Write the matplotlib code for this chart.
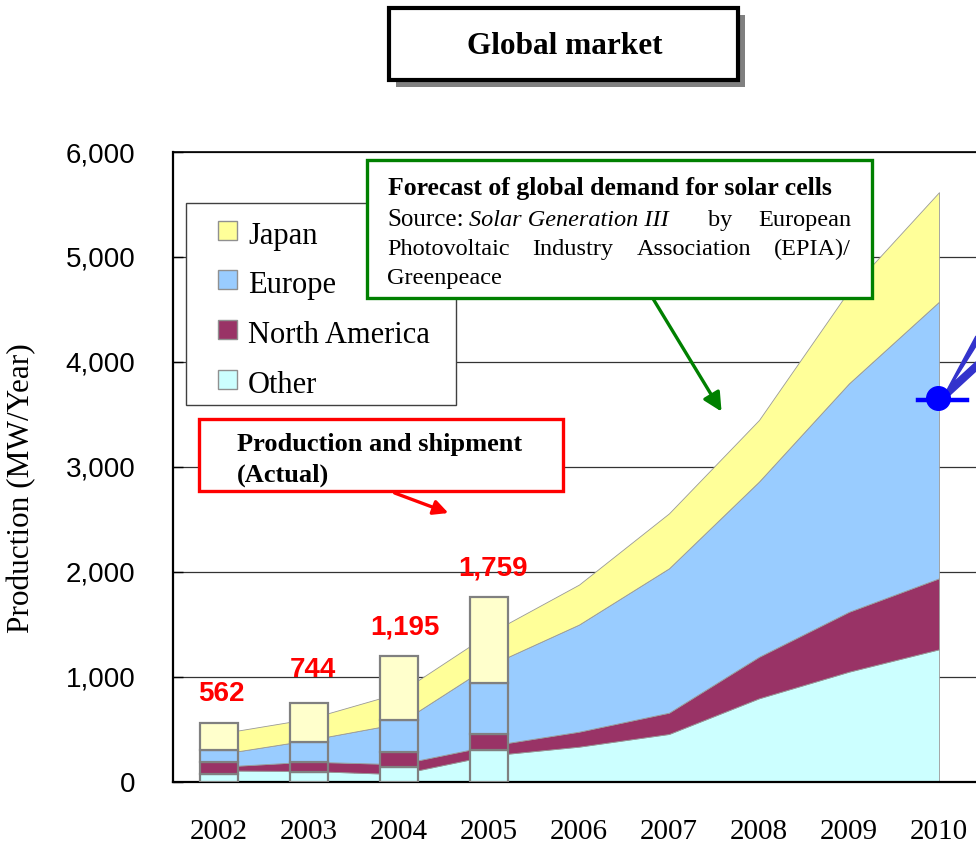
import numpy as np
import matplotlib
matplotlib.use("Agg")
import matplotlib.pyplot as plt
from matplotlib.patches import Rectangle, FancyArrowPatch, Polygon
from matplotlib.lines import Line2D
from matplotlib.ticker import FuncFormatter, FixedLocator

W, H = 976, 849
SERIF = "Liberation Serif"
SANS = "Liberation Sans"

years = ["2002", "2003", "2004", "2005", "2006", "2007", "2008", "2009", "2010"]
# forecast of global demand (EPIA / Greenpeace), MW/Year
other_fc = [105, 100, 70, 247, 332, 453, 793, 1047, 1260]
na_fc = [36, 89, 95, 93, 143, 203, 396, 571, 677]
europe_fc = [119, 206, 388, 765, 1021, 1376, 1670, 2177, 2636]
japan_fc = [196, 203, 292, 305, 381, 524, 587, 885, 1044]
# production and shipment (actual), MW/Year
other_act = [70, 88, 141, 300]
na_act = [115, 100, 143, 153]
europe_act = [115, 190, 302, 483]
japan_act = [262, 366, 609, 823]
totals = [562, 744, 1195, 1759]

c_japan, c_japan_bar = "#FFFF99", "#FFFFCC"
c_europe = "#99CCFF"
c_na = "#993366"
c_other = "#CCFFFF"


def fx(x):
    return x / W


def fy(y):
    return 1 - y / H


def box(x0, y0, x1, y1, **kw):
    return Rectangle((fx(x0), fy(y1)), (x1 - x0) / W, (y1 - y0) / H,
                     transform=fig.transFigure, **kw)


def ftext(x, y, s, **kw):
    kw.setdefault("family", SERIF)
    kw.setdefault("va", "center_baseline")
    kw.setdefault("zorder", 8)
    fig.text(fx(x), fy(y), s, **kw)


fig = plt.figure(figsize=(W / 100, H / 100), dpi=100)
ax = fig.add_axes([fx(173), fy(781.5), (W - 173) / W, (781.5 - 152) / H])

x = np.arange(len(years))
ax.stackplot(x, other_fc, na_fc, europe_fc, japan_fc,
             colors=[c_other, c_na, c_europe, c_japan],
             edgecolor="#999999", linewidth=0.6, zorder=2)

xb = x[:len(totals)]
bottom = np.zeros(len(totals))
for vals, col in [(other_act, c_other), (na_act, c_na),
                  (europe_act, c_europe), (japan_act, c_japan_bar)]:
    ax.bar(xb, vals, width=0.42, bottom=bottom, color=col,
           edgecolor="#808080", linewidth=1.6, zorder=3)
    bottom += np.array(vals)

label_offsets = [(2, 11), (3, 15), (4, 11), (3, 11)]
for xi, t, off in zip(xb, totals, label_offsets):
    ax.annotate(f"{t:,}", (xi, t), xytext=off, textcoords="offset points",
                ha="center", va="bottom", color="#FF0000", fontsize=20,
                fontweight="bold", family=SANS, zorder=4)

ax.set_xlim(-0.511, (W - 219) / 90)
ax.set_ylim(0, 6000)
ax.set_yticks(np.arange(0, 6001, 1000))
ax.yaxis.set_major_formatter(FuncFormatter(lambda v, p: f"{int(v):,}"))
ax.set_xticks(x)
ax.set_xticklabels(years, family=SERIF, fontsize=21)
ax.xaxis.set_minor_locator(FixedLocator(x[:-1] + 0.5))
ax.tick_params(axis="x", which="major", length=0, pad=27)
ax.tick_params(axis="x", which="minor", direction="in", length=7, width=1)
ax.tick_params(axis="y", direction="in", length=7, width=1, pad=27, labelsize=20)
for lab in ax.get_yticklabels():
    lab.set_family(SANS)
ax.grid(axis="y", color="#333333", linewidth=0.9)
ax.set_axisbelow(True)
ax.spines["right"].set_visible(False)
ax.spines["left"].set_linewidth(1.6)
ax.spines["bottom"].set_linewidth(1.6)
ax.spines["top"].set_linewidth(1.2)

fig.text(fx(22), fy(488), "Production (MW/Year)", rotation=90, family=SERIF,
         fontsize=22.5, ha="center", va="center")

# title box with shadow
fig.add_artist(box(396, 15, 745, 87, facecolor="#808080", edgecolor="none", zorder=5))
fig.add_artist(box(389, 8, 738, 80, facecolor="white", edgecolor="black",
                   linewidth=3, zorder=6))
ftext(565, 46, "Global market", fontsize=22.5, fontweight="bold", ha="center",
      va="center")

# legend
fig.add_artist(box(186, 203, 456, 405, facecolor="white", edgecolor="#404040",
                   linewidth=1, zorder=5))
for yy, col, name in [(231, c_japan, "Japan"), (280, c_europe, "Europe"),
                      (330, c_na, "North America"), (380, c_other, "Other")]:
    fig.add_artist(box(218, yy - 10, 237, yy + 9, facecolor=col,
                       edgecolor="#909090", linewidth=1, zorder=6))
    ftext(248, yy + 2, name, fontsize=22, zorder=6)

# forecast annotation
fig.add_artist(box(367, 160, 872, 298, facecolor="white", edgecolor="#008000",
                   linewidth=2.4, zorder=7))
ftext(388, 186, "Forecast of global demand for solar cells", fontsize=18.5,
      fontweight="bold")
ftext(387, 218, "Source:", fontsize=18)
ftext(469, 218, "Solar Generation III", fontsize=17.5, style="italic")
ftext(708, 218, "by", fontsize=17.5)
ftext(851, 218, "European", fontsize=17.5, ha="right")
ftext(387, 247, "Photovoltaic", fontsize=17.5)
ftext(532, 247, "Industry", fontsize=17.5)
ftext(637, 247, "Association", fontsize=17.5)
ftext(851, 247, "(EPIA)/", fontsize=17.5, ha="right")
ftext(387, 276, "Greenpeace", fontsize=17.5)
fig.add_artist(FancyArrowPatch((fx(652), fy(297)), (fx(723), fy(414)),
                               transform=fig.transFigure, arrowstyle="-|>",
                               mutation_scale=28, color="#008000", linewidth=2.4,
                               zorder=7))

# actual annotation
fig.add_artist(box(199, 419, 563, 491, facecolor="white", edgecolor="#FF0000",
                   linewidth=2.4, zorder=5))
ftext(237, 442, "Production and shipment", fontsize=19, fontweight="bold", zorder=6)
ftext(237, 473, "(Actual)", fontsize=19, fontweight="bold", zorder=6)
fig.add_artist(FancyArrowPatch((fx(392), fy(492)), (fx(451), fy(514)),
                               transform=fig.transFigure, arrowstyle="-|>",
                               mutation_scale=22, color="#FF0000", linewidth=2.4,
                               zorder=6))

# callout pointer cut off at the right edge
wedge = [(939, 405), (976, 336), (976, 346), (952, 384), (976, 362), (976, 371)]
fig.add_artist(Polygon([(fx(a), fy(b)) for a, b in wedge], closed=True,
                       facecolor="#3333CC", edgecolor="#3333CC", linewidth=1,
                       transform=fig.transFigure, zorder=6))
fig.add_artist(Line2D([fx(918), fx(967)], [fy(400), fy(400)], color="#0000FF",
                      linewidth=3.2, transform=fig.transFigure, zorder=6))
fig.add_artist(Line2D([fx(938)], [fy(398)], marker="o", markersize=17,
                      color="#0000FF", transform=fig.transFigure, zorder=7))

fig.savefig("out.png", dpi=100)
